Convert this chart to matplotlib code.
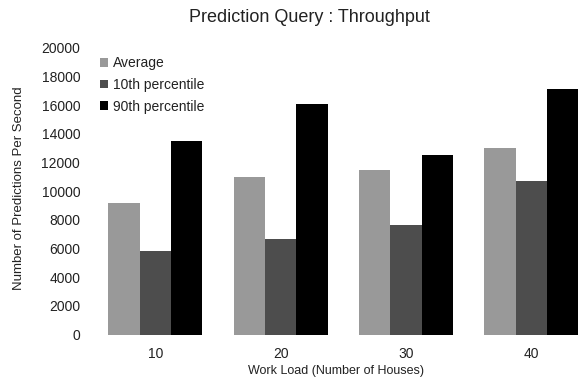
import numpy as np
from matplotlib import pyplot as plt

plt.rcParams['font.family'] = ['Liberation Sans', 'DejaVu Sans']

loads = ['10', '20', '30', '40']
series = ['Average', '10th percentile', '90th percentile']
average = [9200, 11000, 11500, 13000]
p10 = [5800, 6700, 7650, 10750]
p90 = [13500, 16100, 12550, 17150]
colors = ['#999999', '#4d4d4d', '#000000']

fig = plt.figure(figsize=(5.79, 3.86), dpi=100)
ax = fig.add_axes([0.16, 0.133, 0.84, 0.743])

x = np.arange(len(loads))
w = 0.25
for i, (vals, name) in enumerate(zip([average, p10, p90], series)):
    ax.bar(x + (i - 1) * w, vals, w, color=colors[i], label=name)

ax.set_xlim(-0.5, 3.38)
ax.set_ylim(0, 20000)
ax.set_yticks(np.arange(0, 20001, 2000))
ax.set_xticks(x)
ax.set_xticklabels(loads)
for s in ax.spines.values():
    s.set_visible(False)
ax.tick_params(length=0, labelsize=10, colors='#222222')
ax.tick_params(axis='y', pad=9)
ax.tick_params(axis='x', pad=9)

ax.set_xlabel('Work Load (Number of Houses)', fontsize=9, color='#222222', labelpad=3)
ax.set_ylabel('Number of Predictions Per Second', fontsize=9.5, color='#222222')
ax.yaxis.set_label_coords(-0.14, 0.51)
fig.text(0.535, 0.955, 'Prediction Query : Throughput', ha='center', va='center',
         fontsize=13, color='#222222')

ax.legend(loc='upper left', bbox_to_anchor=(0.0, 0.995), frameon=False, fontsize=10,
          handlelength=0.6, handleheight=0.6, handletextpad=0.35, labelspacing=0.55,
          borderaxespad=0.1, labelcolor='#222222')

fig.savefig('out.png', dpi=100)
